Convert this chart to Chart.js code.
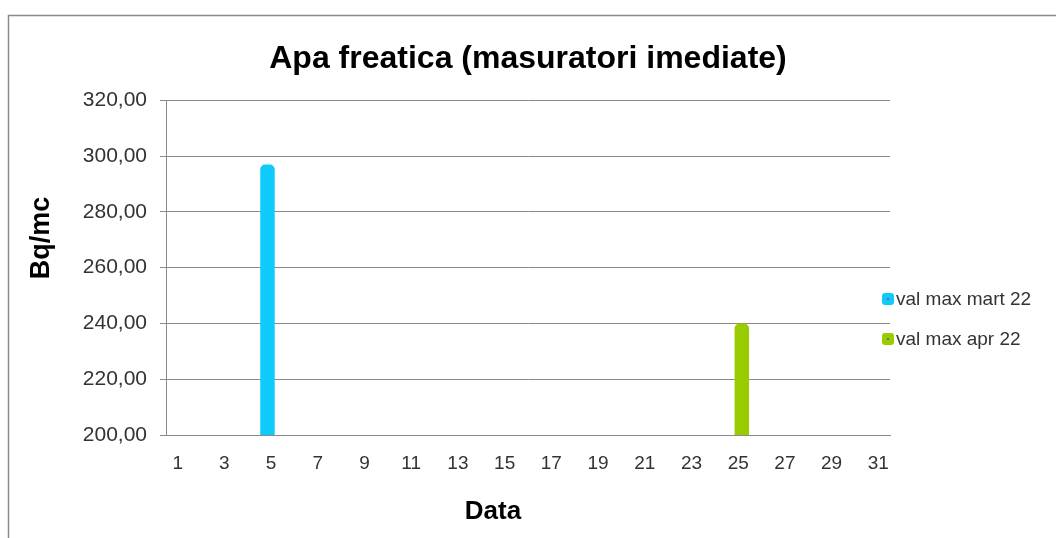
<!DOCTYPE html>
<html>
<head>
<meta charset="utf-8">
<script src="https://cdn.jsdelivr.net/npm/chart.js@4/dist/chart.umd.min.js"></script>
<style>
  html, body { margin: 0; padding: 0; background: #fff; }
  #wrap { width: 1056px; height: 538px; position: relative; }
</style>
</head>
<body>
<div id="wrap"><canvas id="chart" width="1056" height="538"></canvas></div>
<script>
// zilele lunii
const days = ["1", "2", "3", "4", "5", "6", "7", "8", "9", "10", "11", "12", "13", "14", "15", "16",
  "17", "18", "19", "20", "21", "22", "23", "24", "25", "26", "27", "28", "29", "30", "31"];

// valori maxime (Bq/mc)
const valMart = [null, null, null, null, 297, null, null, null, null, null, null, null, null, null, null, null,
  null, null, null, null, null, null, null, null, null, null, null, null, null, null, null];
const valApr = [null, null, null, null, null, null, null, null, null, null, null, null, null, null, null, null,
  null, null, null, null, null, null, null, null, 240, null, null, null, null, null, null];

const seriesNames = ["val max mart 22", "val max apr 22"];
const yTicks = [200, 220, 240, 260, 280, 300, 320];

const colMart = "#0FCBFC";
const colApr = "#99CC00";
const gridCol = "#898989";
const textCol = "#333333";
const fontFam = "'Liberation Sans', Arial, sans-serif";

// chenar, titluri de axe si legenda din dreapta
const extras = {
  id: "extras",
  beforeDraw(chart) {
    const ctx = chart.ctx;
    ctx.save();
    ctx.strokeStyle = "#8a8a8a";
    ctx.lineWidth = 1.5;
    ctx.beginPath();
    ctx.moveTo(8.5, 538);
    ctx.lineTo(8.5, 15.5);
    ctx.lineTo(1056, 15.5);
    ctx.stroke();
    ctx.restore();
  },
  afterDraw(chart) {
    const ctx = chart.ctx;
    ctx.save();
    ctx.fillStyle = "#000";
    ctx.textAlign = "center";
    ctx.textBaseline = "middle";
    ctx.font = "bold 26px " + fontFam;
    ctx.fillText("Data", 493, 512);
    ctx.translate(42, 238);
    ctx.rotate(-Math.PI / 2);
    ctx.font = "bold 27px " + fontFam;
    ctx.fillText("Bq/mc", 0, 0);
    ctx.restore();

    ctx.save();
    ctx.font = "19px " + fontFam;
    ctx.textBaseline = "middle";
    chart.data.datasets.forEach((ds, i) => {
      const y = 299 + i * 40;
      ctx.fillStyle = ds.backgroundColor;
      ctx.beginPath();
      ctx.roundRect(882, y - 6, 12, 12, 3);
      ctx.fill();
      ctx.fillStyle = "#6b6b6b";
      ctx.fillRect(887, y - 1, 2, 2);
      ctx.fillStyle = textCol;
      ctx.fillText(ds.label, 896, y + 1);
    });
    ctx.restore();
  }
};

new Chart(document.getElementById("chart"), {
  type: "bar",
  data: {
    labels: days,
    datasets: [
      { label: seriesNames[0], data: valMart, backgroundColor: colMart },
      { label: seriesNames[1], data: valApr, backgroundColor: colApr }
    ]
  },
  plugins: [extras],
  options: {
    responsive: false,
    animation: false,
    layout: { padding: 0 },
    datasets: {
      bar: {
        // bare suprapuse ca in Excel (overlap)
        categoryPercentage: 0.62,
        barPercentage: 2.0,
        borderRadius: { topLeft: 5, topRight: 5 },
        borderSkipped: "bottom"
      }
    },
    plugins: {
      legend: { display: false },
      tooltip: { enabled: false },
      title: {
        display: true,
        text: "Apa freatica (masuratori imediate)",
        color: "#000",
        font: { family: fontFam, size: 32, weight: "bold" },
        padding: { top: 40, bottom: 22 }
      }
    },
    scales: {
      x: {
        grid: { display: false, drawTicks: false },
        border: { color: gridCol, width: 1 },
        ticks: {
          autoSkip: false,
          maxRotation: 0,
          padding: 17,
          color: textCol,
          font: { family: fontFam, size: 19 },
          callback: function (v, i) { return i % 2 === 0 ? days[i] : ""; }
        },
        afterFit(scale) { scale.height = 103; }
      },
      y: {
        min: 200,
        max: 320,
        afterBuildTicks(scale) { scale.ticks = yTicks.map((v) => ({ value: v })); },
        grid: { color: gridCol, lineWidth: 1, tickLength: 6 },
        border: { color: gridCol, width: 1 },
        ticks: {
          padding: 13,
          color: textCol,
          font: { family: fontFam, size: 21 },
          callback: (v) => Number(v).toFixed(2).replace(".", ",")
        },
        afterFit(scale) { scale.width = 166; }
      },
      // axa goala din dreapta: rezerva loc pentru legenda
      yr: {
        position: "right",
        display: true,
        min: 200,
        max: 320,
        grid: { display: false, drawTicks: false },
        border: { display: false },
        ticks: { display: false },
        afterFit(scale) { scale.width = 166; }
      }
    }
  }
});
</script>
</body>
</html>
